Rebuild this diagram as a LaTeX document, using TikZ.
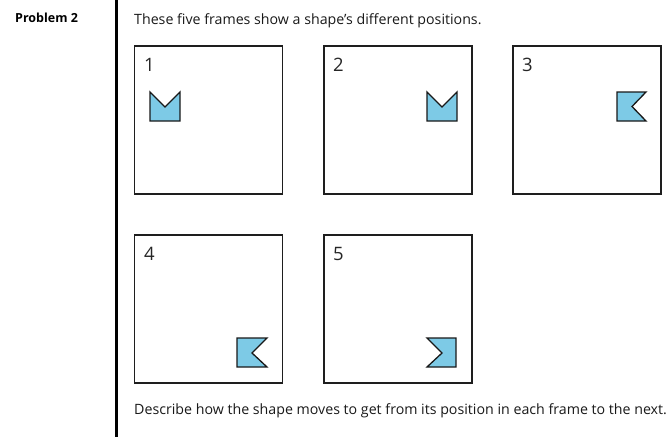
\documentclass[tikz,border=0pt]{standalone}
\usepackage{fontspec}
\setmainfont{Open Sans}
\definecolor{shapeblue}{RGB}{125,202,230}
\definecolor{framegray}{RGB}{30,30,30}
\tikzset{
  frame/.style={draw=framegray, line width=1.3pt, minimum width=148pt, minimum height=148pt, inner sep=0pt},
  numlabel/.style={anchor=base west, inner sep=0pt, font=\fontsize{18.5}{20}\selectfont, text=black!85},
  flag/.style={draw=black!90, fill=shapeblue, line width=1.3pt, line join=miter},
  bodytext/.style={anchor=base west, inner sep=0pt, font=\fontsize{14.2}{16}\selectfont, text=black!90}
}
\begin{document}
\begin{tikzpicture}[x=1pt,y=-1pt]
\useasboundingbox (0,0) rectangle (670,437);
% title and divider
\node[anchor=base west, inner sep=0pt, font=\bfseries\fontsize{12.5}{14}\selectfont] (title) at (15,22) {Problem 2};
\draw[line width=2.8pt] (116.5,0) -- (116.5,437);
\node[bodytext] (intro) at (134,24) {These five frames show a shape's different positions.};
\node[bodytext] (outro) at (134,414) {Describe how the shape moves to get from its position in each frame to the next.};
% frames
\node[frame] (f1) at (208.5,120) {};
\node[frame] (f2) at (398,120) {};
\node[frame] (f3) at (587,120) {};
\node[frame] (f4) at (208.5,309) {};
\node[frame] (f5) at (398,309) {};
% numbers
\node[numlabel] (n1) at (144,71.5) {1};
\node[numlabel] (n2) at (333,71.5) {2};
\node[numlabel] (n3) at (522,71.5) {3};
\node[numlabel] (n4) at (144,260.5) {4};
\node[numlabel] (n5) at (333,260.5) {5};
% shapes
\draw[flag] (150,92) -- (165,107) -- (180,92) -- (180,121) -- (150,121) -- cycle;
\draw[flag] (427,92) -- (442,107) -- (457,92) -- (457,121) -- (427,121) -- cycle;
\draw[flag] (617,92) -- (646,92) -- (632,106.5) -- (646,121) -- (617,121) -- cycle;
\draw[flag] (237,338) -- (267,338) -- (252,353) -- (267,367) -- (237,367) -- cycle;
\draw[flag] (427,338) -- (456,338) -- (456,367) -- (427,367) -- (442,353) -- cycle;
\end{tikzpicture}
\end{document}
